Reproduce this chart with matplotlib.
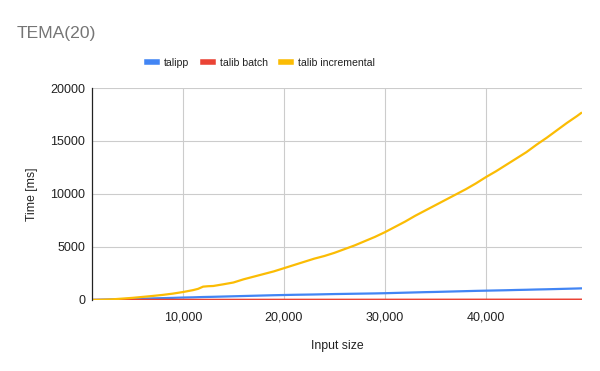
import matplotlib
matplotlib.use("Agg")
import matplotlib.pyplot as plt
from matplotlib.ticker import FuncFormatter
from matplotlib.lines import Line2D

plt.rcParams['font.family'] = ['Liberation Sans', 'DejaVu Sans']

# input sizes
sizes = [1000, 2000, 3000, 4000, 5000, 6000, 7000, 8000, 9000, 10000,
         11000, 11500, 12000, 12500, 13000, 14000, 15000, 16000, 17000, 18000,
         19000, 20000, 21000, 22000, 23000, 24000, 25000, 26000, 27000, 28000,
         29000, 30000, 31000, 32000, 33000, 34000, 35000, 36000, 37000, 38000,
         39000, 40000, 41000, 42000, 43000, 44000, 45000, 46000, 47000, 48000,
         49000, 49500]

talib_incremental = [0, 20, 60, 130, 200, 290, 380, 480, 600, 750,
                     930, 1050, 1260, 1300, 1320, 1480, 1650, 1950, 2200, 2450,
                     2700, 3000, 3300, 3600, 3900, 4150, 4450, 4800, 5150, 5550,
                     5950, 6400, 6900, 7400, 7950, 8450, 8950, 9450, 9950, 10450,
                     11000, 11600, 12150, 12750, 13350, 13950, 14650, 15300, 16000, 16700,
                     17350, 17700]

talipp = [10, 30, 50, 75, 100, 125, 150, 175, 200, 230,
          250, 265, 280, 290, 300, 325, 350, 375, 400, 425,
          450, 470, 490, 505, 520, 540, 560, 575, 590, 605,
          620, 640, 665, 690, 715, 740, 760, 785, 810, 835,
          860, 880, 900, 920, 945, 965, 990, 1010, 1035, 1060,
          1085, 1100]

talib_batch = [5, 6, 7, 8, 9, 10, 11, 12, 13, 14,
               15, 15, 16, 16, 16, 17, 17, 18, 18, 19,
               19, 20, 20, 21, 21, 22, 22, 23, 23, 24,
               24, 25, 25, 26, 26, 27, 27, 28, 28, 29,
               29, 30, 30, 31, 31, 32, 32, 33, 33, 34,
               34, 35]

series = [("talipp", talipp, "#4285F4"),
          ("talib batch", talib_batch, "#EA4335"),
          ("talib incremental", talib_incremental, "#FBBC04")]

fig = plt.figure(figsize=(6, 3.71), dpi=100)
ax = fig.add_axes([0.1533, 0.1914, 0.8167, 0.5714])

for name, vals, col in series:
    ax.plot(sizes, vals, color=col, lw=1.6, label=name, solid_capstyle='butt')

ax.set_xlim(1000, 49500)
ax.set_ylim(0, 20000)
ax.set_xticks([10000, 20000, 30000, 40000])
ax.set_yticks([0, 5000, 10000, 15000, 20000])
ax.xaxis.set_major_formatter(FuncFormatter(lambda v, p: f"{int(v):,}"))
ax.grid(True, color="#cccccc", lw=0.8)
ax.set_axisbelow(True)
for s in ["top", "right", "bottom"]:
    ax.spines[s].set_visible(False)
ax.spines["left"].set_color("#222222")
ax.spines["left"].set_linewidth(0.9)
ax.tick_params(length=0, labelsize=9, colors="#222222")
ax.tick_params(axis="y", pad=5)
ax.tick_params(axis="x", pad=8)

ax.set_xlabel("Input size", fontsize=8.8, color="#222222", labelpad=12)
ax.set_ylabel("Time [ms]", fontsize=8.8, color="#222222", labelpad=9)

fig.text(0.028, 0.91, "TEMA(20)", fontsize=12.6, color="#757575", va="center")

handles = [Line2D([0], [0], color=c, lw=4) for _, _, c in series]
fig.legend(handles, [n for n, _, _ in series], loc="center", bbox_to_anchor=(0.435, 0.83),
           ncol=3, frameon=False, fontsize=7.6, handlelength=0.95, handletextpad=0.66,
           columnspacing=1.3, labelcolor="#222222")

fig.savefig("out.png", dpi=100)
